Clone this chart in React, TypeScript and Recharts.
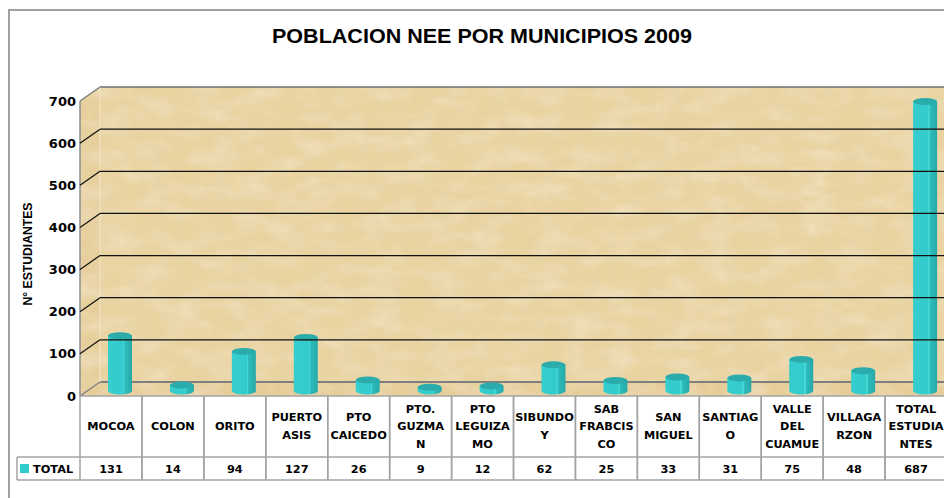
import {
  Bar,
  BarChart,
  ReferenceArea,
  ReferenceLine,
  XAxis,
  YAxis,
} from 'recharts'

const categories = [
  'MOCOA',
  'COLON',
  'ORITO',
  'PUERTO ASIS',
  'PTO CAICEDO',
  'PTO. GUZMAN',
  'PTO LEGUIZAMO',
  'SIBUNDOY',
  'SAB FRABCISCO',
  'SAN MIGUEL',
  'SANTIAGO',
  'VALLE DEL CUAMUE',
  'VILLAGARZON',
  'TOTAL ESTUDIANTES',
]

const categoryLines = [
  ['MOCOA'],
  ['COLON'],
  ['ORITO'],
  ['PUERTO', 'ASIS'],
  ['PTO', 'CAICEDO'],
  ['PTO.', 'GUZMA', 'N'],
  ['PTO', 'LEGUIZA', 'MO'],
  ['SIBUNDO', 'Y'],
  ['SAB', 'FRABCIS', 'CO'],
  ['SAN', 'MIGUEL'],
  ['SANTIAG', 'O'],
  ['VALLE', 'DEL', 'CUAMUE'],
  ['VILLAGA', 'RZON'],
  ['TOTAL', 'ESTUDIA', 'NTES'],
]

const totals = [131, 14, 94, 127, 26, 9, 12, 62, 25, 33, 31, 75, 48, 687]

const yTicks = [0, 100, 200, 300, 400, 500, 600, 700]

const data = categories.map((name, i) => ({ name, total: totals[i] }))

const CHART_W = 990
const CHART_H = 498
const PLOT_LEFT = 80
const BAND = 61.93
const PLOT_W = BAND * categories.length
const DX = 20
const DY = 14
const BAR_DX = 9
const BAR_DY = 5

const TAN = '#E9D3A0'
const CYAN = '#33CCCC'
const TABLE_LINE = '#A3A3A3'
const TABLE_FONT = "'DejaVu Sans', Verdana, sans-serif"

function Walls(props: any) {
  const { x, y, width, height } = props
  const b = y + height
  return (
    <g>
      <defs>
        <filter id="papiro" x="0" y="0" width="1" height="1">
          {/* fibras verticales */}
          <feTurbulence type="fractalNoise" baseFrequency="0.12 0.008" numOctaves="3" seed="3" result="n1" />
          <feColorMatrix
            in="n1"
            type="matrix"
            values="0 0 0 0 0.80  0 0 0 0 0.67  0 0 0 0 0.40  1.1 0 0 0 -0.4"
            result="t1"
          />
          {/* manchas claras */}
          <feTurbulence type="fractalNoise" baseFrequency="0.03 0.06" numOctaves="3" seed="11" result="n2" />
          <feColorMatrix
            in="n2"
            type="matrix"
            values="0 0 0 0 0.97  0 0 0 0 0.91  0 0 0 0 0.76  0.7 0 0 0 -0.28"
            result="t2"
          />
          <feComposite in="t1" in2="SourceGraphic" operator="in" result="c1" />
          <feComposite in="t2" in2="SourceGraphic" operator="in" result="c2" />
          <feMerge>
            <feMergeNode in="SourceGraphic" />
            <feMergeNode in="c2" />
            <feMergeNode in="c1" />
          </feMerge>
        </filter>
        <linearGradient id="cil" x1="0" y1="0" x2="1" y2="0">
          <stop offset="0" stopColor="#35CDCD" />
          <stop offset="0.62" stopColor="#33CBCB" />
          <stop offset="0.63" stopColor="#45D6D6" />
          <stop offset="0.68" stopColor="#45D6D6" />
          <stop offset="0.69" stopColor="#2FBDBD" />
          <stop offset="1" stopColor="#27A8A8" />
        </linearGradient>
      </defs>
      {/* pared trasera */}
      <rect
        x={x + DX}
        y={y - DY}
        width={width + DX + 40}
        height={height}
        fill={TAN}
        filter="url(#papiro)"
      />
      {/* pared lateral */}
      <polygon
        points={`${x},${y} ${x + DX},${y - DY} ${x + DX},${b - DY} ${x},${b}`}
        fill="#E7CF9C"
        filter="url(#papiro)"
      />
      {/* piso */}
      <polygon
        points={`${x},${b} ${x + DX},${b - DY} ${x + width + DX + 40},${b - DY} ${x + width + 40},${b}`}
        fill="#E6CC98"
        filter="url(#papiro)"
      />
      <line x1={x + DX} y1={y - DY} x2={x + width + 60} y2={y - DY} stroke="#6E6E6E" strokeWidth={1.5} />
      <line x1={x + DX} y1={b - DY} x2={x + width + 60} y2={b - DY} stroke="#7F7F7F" strokeWidth={2} />
      <line x1={x + DX} y1={y - DY} x2={x + DX} y2={b - DY} stroke="#F3E6C4" strokeWidth={1} />
      <line x1={x} y1={y} x2={x} y2={b} stroke="#8C8C8C" strokeWidth={1.5} />
    </g>
  )
}

function gridShape(value: number) {
  return (p: any) => {
    const { x1, y1, x2 } = p
    const edge = value === 0 || value === 700
    return (
      <g>
        <line
          x1={x1}
          y1={y1}
          x2={x1 + DX}
          y2={y1 - DY}
          stroke={edge ? '#7F7F7F' : '#111'}
          strokeWidth={edge ? 1.5 : 1.2}
        />
        {!edge && (
          <line x1={x1 + DX} y1={y1 - DY} x2={x2 + 60} y2={y1 - DY} stroke="#111" strokeWidth={1.2} />
        )}
      </g>
    )
  }
}

function Cylinder(props: any) {
  const { x, y, width, height } = props
  if (height == null || width == null) return null
  const bx = x + BAR_DX
  const by = y - BAR_DY
  const rx = width / 2
  const ry = 3.5
  return (
    <g>
      <path
        d={`M${bx},${by} L${bx},${by + height} A${rx},${ry} 0 0 0 ${bx + width},${by + height} L${bx + width},${by} Z`}
        fill="url(#cil)"
      />
      <ellipse cx={bx + rx} cy={by} rx={rx} ry={ry} fill="#2AACAC" />
    </g>
  )
}

function TableTick(props: any) {
  const { x, y, payload } = props
  const i = payload.index
  const half = BAND / 2
  const lines = categoryLines[i]
  const mid = y + 30
  const step = 17.5
  return (
    <g fontFamily={TABLE_FONT} fontWeight={700} fontSize={11.3} fill="#000">
      <line x1={x - half} y1={y} x2={x - half} y2={y + 84} stroke={TABLE_LINE} strokeWidth={1.5} />
      <line x1={x + half} y1={y} x2={x + half} y2={y + 84} stroke={TABLE_LINE} strokeWidth={1.5} />
      <line x1={x - half} y1={y + 61} x2={x + half} y2={y + 61} stroke={TABLE_LINE} strokeWidth={1.5} />
      <line x1={x - half} y1={y + 84} x2={x + half} y2={y + 84} stroke={TABLE_LINE} strokeWidth={1.5} />
      {lines.map((t, k) => (
        <text
          key={t}
          x={x}
          y={mid + (k - (lines.length - 1) / 2) * step}
          dy="0.36em"
          textAnchor="middle"
        >
          {t}
        </text>
      ))}
      <text x={x} y={y + 72.5} dy="0.36em" textAnchor="middle">
        {totals[i]}
      </text>
      {i === 0 && (
        <g>
          <line x1={x - half - 63} y1={y + 61} x2={x - half} y2={y + 61} stroke={TABLE_LINE} strokeWidth={1.5} />
          <line x1={x - half - 63} y1={y + 84} x2={x - half} y2={y + 84} stroke={TABLE_LINE} strokeWidth={1.5} />
          <line x1={x - half - 63} y1={y + 61} x2={x - half - 63} y2={y + 84} stroke={TABLE_LINE} strokeWidth={1.5} />
          <rect x={x - half - 60} y={y + 68} width={9} height={9} fill={CYAN} />
          <text x={x - half - 47} y={y + 72.5} dy="0.36em">
            TOTAL
          </text>
        </g>
      )}
    </g>
  )
}

export default function App() {
  return (
    <div
      style={{
        position: 'fixed',
        left: 0,
        top: 0,
        width: 944,
        height: 498,
        overflow: 'hidden',
        background: '#fff',
      }}
    >
      <svg width={944} height={498} style={{ position: 'absolute', left: 0, top: 0 }}>
        <rect x={9} y={10} width={1000} height={600} fill="none" stroke="#A0A0A0" strokeWidth={2} />
        <text
          x={482}
          y={43}
          textAnchor="middle"
          fontFamily="'Liberation Sans', Arial, sans-serif"
          fontWeight={700}
          fontSize={21}
          textLength={420}
          lengthAdjust="spacingAndGlyphs"
        >
          POBLACION NEE POR MUNICIPIOS 2009
        </text>
        <text
          x={0}
          y={0}
          transform="translate(32,254) rotate(-90)"
          textAnchor="middle"
          fontFamily="'Liberation Sans Narrow', 'Liberation Sans', Arial, sans-serif"
          fontWeight={700}
          fontSize={13.5}
          textLength={103}
          lengthAdjust="spacingAndGlyphs"
        >
          N° ESTUDIANTES
        </text>
      </svg>
      <div style={{ position: 'absolute', left: 0, top: 0 }}>
        <BarChart
          width={CHART_W}
          height={CHART_H}
          data={data}
          margin={{ top: 101, right: CHART_W - PLOT_LEFT - PLOT_W, bottom: 18, left: PLOT_LEFT - 60 }}
          barSize={24}
        >
          <XAxis
            dataKey="name"
            interval={0}
            height={84}
            tickSize={0}
            tickMargin={0}
            tickLine={false}
            axisLine={{ stroke: TABLE_LINE, strokeWidth: 1.5 }}
            tick={<TableTick />}
          />
          <YAxis
            width={60}
            domain={[0, 700]}
            ticks={yTicks}
            interval={0}
            axisLine={false}
            tickLine={false}
            tickSize={0}
            tickMargin={4}
            tick={{ fill: '#000', fontSize: 13, fontWeight: 700, fontFamily: TABLE_FONT }}
          />
          <ReferenceArea y1={0} y2={700} shape={<Walls />} ifOverflow="visible" />
          {yTicks.map((v) => (
            <ReferenceLine key={v} y={v} shape={gridShape(v)} ifOverflow="visible" />
          ))}
          <Bar dataKey="total" shape={<Cylinder />} isAnimationActive={false} />
        </BarChart>
      </div>
    </div>
  )
}
